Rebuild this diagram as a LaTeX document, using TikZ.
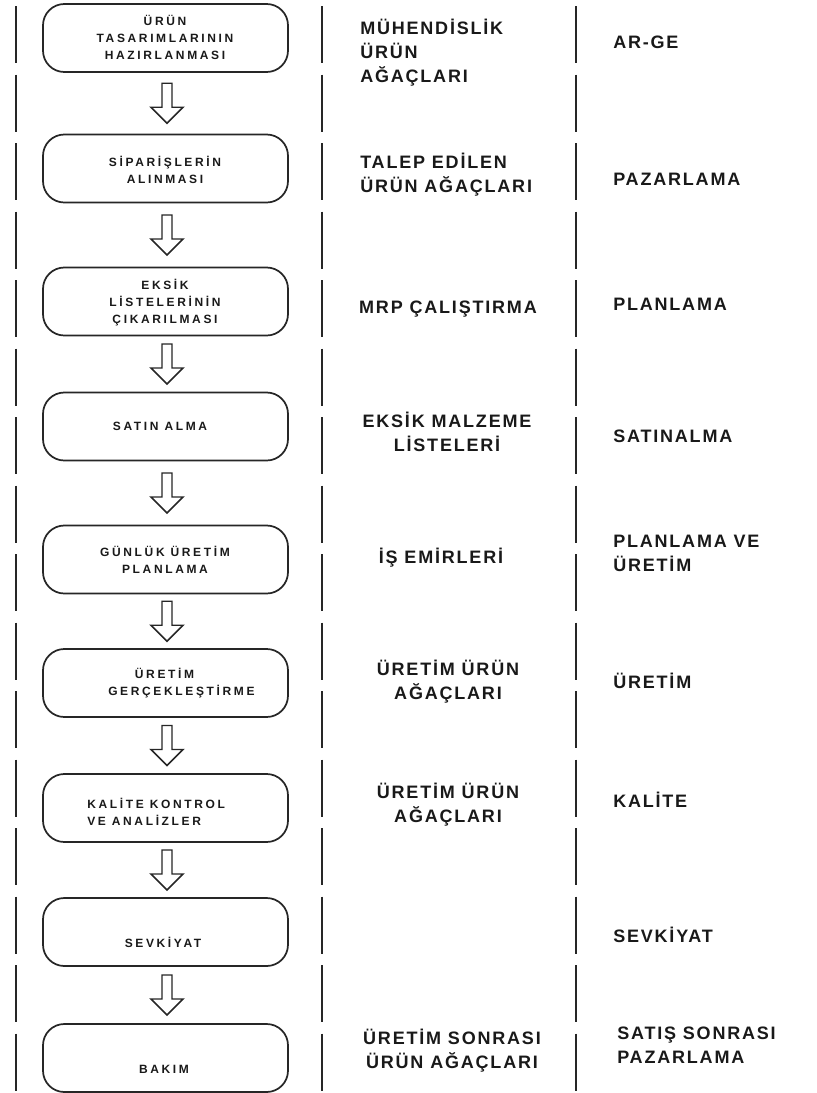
\documentclass[tikz,border=0pt]{standalone}
\usepackage{fontspec}
\setmainfont{Liberation Sans}
\newfontfamily\colfont[LetterSpace=10]{Liberation Sans}
\newfontfamily\stepfont[LetterSpace=22]{Liberation Sans}
\usetikzlibrary{calc}

% multi-line nodes are placed by the baseline of their last line
\tikzset{
  laneline/.style={draw=black!85, line width=2.2pt, dash pattern=on 42.75pt off 8.625pt},
  procbox/.style={draw=black!85, line width=1.3pt, rounded corners=16pt,
    minimum width=183.75pt, minimum height=51pt, inner sep=0pt},
  steptext/.style={font=\stepfont\bfseries\fontsize{9}{12.75}\selectfont,
    text=black!90, inner sep=0pt, anchor=base, align=center},
  coltext/.style={font=\colfont\bfseries\fontsize{13.5}{18}\selectfont,
    text=black!90, inner sep=0pt, anchor=base west, align=left},
  colmid/.style={coltext, anchor=base, align=center},
  arrowline/.style={draw=black!85, line width=1.1pt, fill=white, line join=miter},
  downarrow/.pic={
    \draw[arrowline] (-5,-20) -- (5,-20) -- (5,4) -- (16,4) -- (0,20)
      -- (-16,4) -- (-5,4) -- cycle;
  }
}

\begin{document}
\begin{tikzpicture}[x=0.75pt, y=-0.75pt]
\useasboundingbox (0,0) rectangle (817,1093);

% lane separators
\coordinate (la) at (16,6);   \coordinate (lb) at (16,1093);
\coordinate (ma) at (322,6);  \coordinate (mb) at (322,1093);
\coordinate (ra) at (576,6);  \coordinate (rb) at (576,1093);
\draw[laneline] (la) -- (lb);
\draw[laneline] (ma) -- (mb);
\draw[laneline] (ra) -- (rb);

% process steps
\node[procbox] (b1) at (165.5,38)   {};
\node[procbox] (b2) at (165.5,168.5) {};
\node[procbox] (b3) at (165.5,301.5) {};
\node[procbox] (b4) at (165.5,426.5) {};
\node[procbox] (b5) at (165.5,559.5) {};
\node[procbox] (b6) at (165.5,683)   {};
\node[procbox] (b7) at (165.5,808)   {};
\node[procbox] (b8) at (165.5,932)   {};
\node[procbox] (b9) at (165.5,1058)  {};

\node[steptext] (t1) at (165,59)  {ÜRÜN\\TASARIMLARININ\\HAZIRLANMASI};
\node[steptext] (t2) at (165,183) {SİPARİŞLERİN\\ALINMASI};
\node[steptext] (t3) at (165,323) {EKSİK\\LİSTELERİNİN\\ÇIKARILMASI};
\node[steptext] (t4) at (160,430) {SATIN ALMA};
\node[steptext] (t5) at (165,573) {GÜNLÜK ÜRETİM\\PLANLAMA};
\node[steptext, anchor=base west, align=left] (t6) at (108,695)
  {\hspace*{20pt}ÜRETİM\\GERÇEKLEŞTİRME};
\node[steptext, anchor=base west, align=left] (t7) at (87,825)
  {KALİTE KONTROL\\VE ANALİZLER};
\node[steptext] (t8) at (163,947)  {SEVKİYAT};
\node[steptext] (t9) at (164,1073) {BAKIM};

% flow arrows
\foreach \a/\b in {b1/b2,b2/b3,b3/b4,b4/b5,b5/b6,b6/b7,b7/b8,b8/b9}
  \pic at ($(\a.south)!0.5!(\b.north)+(1.5,0)$) {downarrow};

% documents
\node[coltext] (m1) at (360,82)  {MÜHENDİSLİK\\ÜRÜN\\AĞAÇLARI};
\node[coltext] (m2) at (360,192) {TALEP EDİLEN\\ÜRÜN AĞAÇLARI};
\node[colmid]  (m3) at (448,313) {MRP ÇALIŞTIRMA};
\node[colmid]  (m4) at (447,451) {EKSİK MALZEME\\LİSTELERİ};
\node[colmid]  (m5) at (441,563) {İŞ EMİRLERİ};
\node[colmid]  (m6) at (448,699) {ÜRETİM ÜRÜN\\AĞAÇLARI};
\node[colmid]  (m7) at (448,822) {ÜRETİM ÜRÜN\\AĞAÇLARI};
\node[colmid]  (m9) at (452,1068) {ÜRETİM SONRASI\\ÜRÜN AĞAÇLARI};

% departments
\node[coltext] (r1) at (613,48)   {AR-GE};
\node[coltext] (r2) at (613,185)  {PAZARLAMA};
\node[coltext] (r3) at (613,310)  {PLANLAMA};
\node[coltext] (r4) at (613,442)  {SATINALMA};
\node[coltext] (r5) at (613,571)  {PLANLAMA VE\\ÜRETİM};
\node[coltext] (r6) at (613,688)  {ÜRETİM};
\node[coltext] (r7) at (613,807)  {KALİTE};
\node[coltext] (r8) at (613,942)  {SEVKİYAT};
\node[coltext] (r9) at (617,1063) {SATIŞ SONRASI\\PAZARLAMA};
\end{tikzpicture}
\end{document}
